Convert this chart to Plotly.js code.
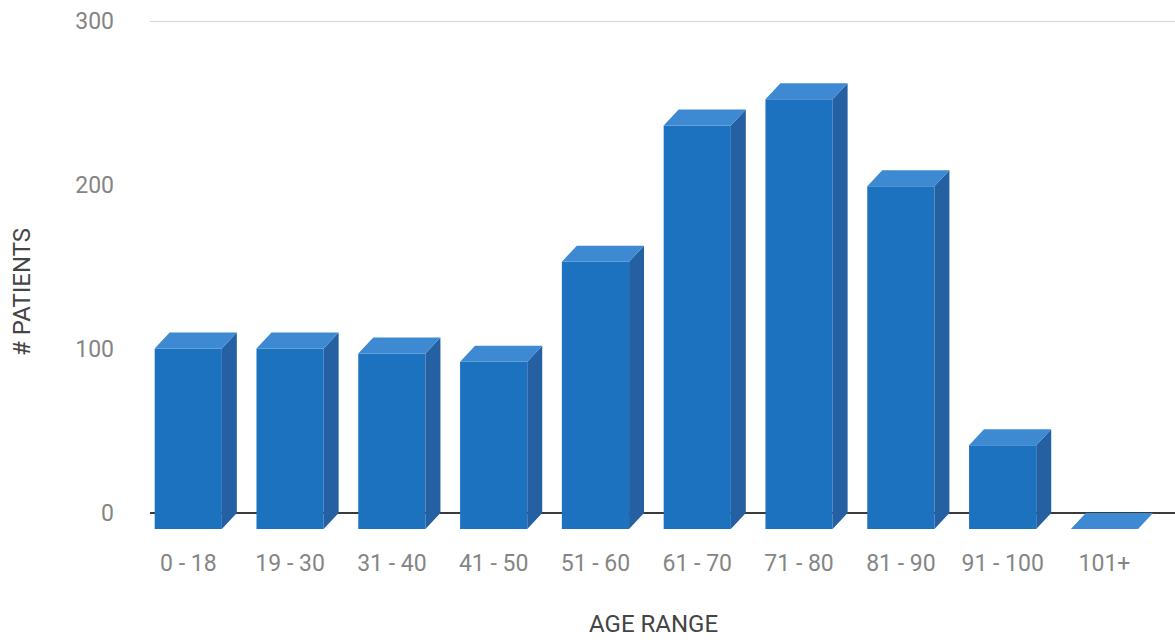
<!DOCTYPE html>
<html>
<head>
<meta charset="utf-8">
<script src="https://cdn.plot.ly/plotly-3.0.1.min.js"></script>
<style>
  html, body { margin: 0; padding: 0; background: #ffffff; }
  #chart { width: 1175px; height: 642px; }
</style>
</head>
<body>
<div id="chart"></div>
<script>
// Patient counts per age band
const ageRanges = ["0 - 18", "19 - 30", "31 - 40", "41 - 50", "51 - 60",
                   "61 - 70", "71 - 80", "81 - 90", "91 - 100", "101+"];
const patients = [110, 110, 107, 102, 163, 246, 262, 209, 51, 0];

// Pseudo-3D extrusion: front face width (category units), depth offsets
const BAR_W = 0.66;
const DEPTH_X = 0.147;   // shift of the back face to the right (category units)
const DEPTH_Y = 9.76;    // shift of the back face upward (value units)

const FRONT = "#1d72c0";
const TOP = "#3d8ad2";
const SIDE = "#2460a2";

const idx = ageRanges.map((_, i) => i);

// top and side faces as null-separated polygons
const topX = [], topY = [], sideX = [], sideY = [];
idx.forEach(i => {
  const v = patients[i];
  const l = i - BAR_W / 2, r = i + BAR_W / 2;
  topX.push(l, r, r + DEPTH_X, l + DEPTH_X, l, null);
  topY.push(v - DEPTH_Y, v - DEPTH_Y, v, v, v - DEPTH_Y, null);
  if (v > 0) {
    sideX.push(r, r + DEPTH_X, r + DEPTH_X, r, r, null);
    sideY.push(v - DEPTH_Y, v, 0, -DEPTH_Y, v - DEPTH_Y, null);
  }
});

const traces = [
  {
    type: "bar",
    x: idx,
    y: patients,
    base: patients.map(() => -DEPTH_Y),
    width: BAR_W,
    marker: { color: FRONT, line: { width: 0 } },
    hoverinfo: "skip",
    showlegend: false
  },
  {
    type: "scatter",
    mode: "lines",
    x: sideX, y: sideY,
    fill: "toself",
    fillcolor: SIDE,
    line: { width: 0, color: SIDE },
    hoverinfo: "skip",
    showlegend: false
  },
  {
    type: "scatter",
    mode: "lines",
    x: topX, y: topY,
    fill: "toself",
    fillcolor: TOP,
    line: { width: 0, color: TOP },
    hoverinfo: "skip",
    showlegend: false
  }
];

const tickFont = { family: "Roboto, 'Open Sans', sans-serif", size: 23, color: "#858585" };
const titleFont = { family: "Roboto, 'Open Sans', sans-serif", size: 24, color: "#444444" };

const layout = {
  width: 1175,
  height: 642,
  margin: { l: 150, r: 0, t: 21, b: 113, pad: 0 },
  paper_bgcolor: "#ffffff",
  plot_bgcolor: "#ffffff",
  showlegend: false,
  xaxis: {
    type: "linear",
    range: [-0.376, 9.693],
    tickmode: "array",
    tickvals: idx,
    ticktext: ageRanges,
    showgrid: false,
    zeroline: false,
    showline: false,
    ticks: "",
    ticklabelstandoff: 18,
    tickfont: tickFont,
    fixedrange: true
  },
  yaxis: {
    range: [-DEPTH_Y, 300],
    tickmode: "array",
    tickvals: [0, 100, 200, 300],
    showgrid: false,
    zeroline: true,
    zerolinecolor: "#3a3a3a",
    zerolinewidth: 1.5,
    showline: false,
    ticks: "",
    ticklabelstandoff: 35,
    tickfont: tickFont,
    fixedrange: true
  },
  shapes: [
    {
      type: "line", xref: "paper", yref: "y",
      x0: 0, x1: 1, y0: 300, y1: 300,
      line: { color: "#aaaaaa", width: 1 },
      layer: "below"
    }
  ],
  annotations: [
    {
      text: "# PATIENTS", xref: "paper", yref: "paper",
      x: -0.1249, y: 0.4665, xanchor: "center", yanchor: "middle",
      textangle: -90, showarrow: false, font: titleFont
    },
    {
      text: "AGE RANGE", xref: "paper", yref: "paper",
      x: 0.4917, y: -0.187, xanchor: "center", yanchor: "middle",
      showarrow: false, font: titleFont
    }
  ]
};

Plotly.newPlot("chart", traces, layout, { displayModeBar: false, staticPlot: true });
</script>
</body>
</html>
